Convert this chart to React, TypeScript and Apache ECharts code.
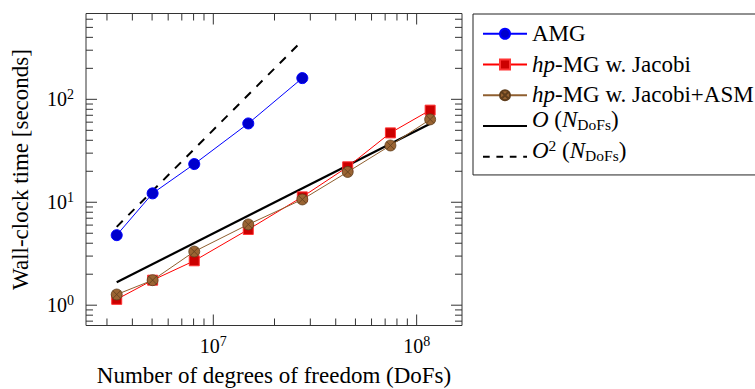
import React, { useEffect, useRef } from 'react';
import * as echarts from 'echarts';

// ---- data ----
const dofsAMG = [3.35e6, 5.03e6, 8.06e6, 1.486e7, 2.74e7];
const timeAMG = [4.79, 12.2, 23.5, 58.3, 160.7];
const dofsHP = [3.35e6, 5.03e6, 8.06e6, 1.486e7, 2.74e7, 4.58e7, 7.43e7, 1.165e8];
const timeJacobi = [1.14, 1.75, 2.7, 5.44, 11.28, 22.1, 47.2, 78.5];
const timeJacobiASM = [1.27, 1.75, 3.32, 6.09, 10.65, 19.7, 35.6, 63.8];
const dofsLinear = [3.35e6, 1.165e8];
const timeLinear = [1.67, 58];
const dofsQuadratic = [3.35e6, 2.74e7];
const timeQuadratic = [5.77, 372];

const xRange = [2.366e6, 1.671e8];
const yRange = [0.635, 682];
const xMajorTicks = [1e7, 1e8];
const xMinorTicks = [3e6, 4e6, 5e6, 6e6, 7e6, 8e6, 9e6, 2e7, 3e7, 4e7, 5e7, 6e7, 7e7, 8e7, 9e7];
const yMajorTicks = [1, 10, 100];
const yMinorTicks = [0.7, 0.8, 0.9, 2, 3, 4, 5, 6, 7, 8, 9, 20, 30, 40, 50, 60, 70, 80, 90, 200, 300, 400, 500, 600];

const legendLabels: Record<string, string> = {
  AMG: '{sp| }{r|AMG}',
  hpJ: '{sp| }{i|hp}{r|-MG w. Jacobi}',
  hpJA: '{sp| }{i|hp}{r|-MG w. Jacobi+ASM}',
  ON: '{sp| }{oi|O}{or| (}{oi|N}{sub|DoFs}{or|)}',
  ON2: '{sp| }{oi|O}{sup|2}{or| (}{oi|N}{sub|DoFs}{or|)}',
};

const FONT = 'Liberation Serif';
const FRAME = '#333333';

const pairs = (xs: number[], ys: number[]) => xs.map((x, i) => [x, ys[i]]);

const otimes = 'path://M10,0A10,10,0,1,1,10,20A10,10,0,1,1,10,0ZM2.93,2.93L17.07,17.07M17.07,2.93L2.93,17.07';

function tickSeries(dir: 'x' | 'y', ticks: number[], len: number) {
  return {
    type: 'custom',
    silent: true,
    z: 5,
    data: ticks.map((v) => (dir === 'x' ? [v, 1] : [1e7, v])),
    renderItem: (params: any, api: any) => {
      const cs = params.coordSys;
      const p = api.coord([api.value(0), api.value(1)]);
      const style = { stroke: FRAME, lineWidth: 1 };
      if (dir === 'x') {
        const x = p[0];
        return {
          type: 'group',
          children: [
            { type: 'line', shape: { x1: x, y1: cs.y + cs.height, x2: x, y2: cs.y + cs.height - len }, style },
            { type: 'line', shape: { x1: x, y1: cs.y, x2: x, y2: cs.y + len }, style },
          ],
        };
      }
      const y = p[1];
      return {
        type: 'group',
        children: [
          { type: 'line', shape: { x1: cs.x, y1: y, x2: cs.x + len, y2: y }, style },
          { type: 'line', shape: { x1: cs.x + cs.width, y1: y, x2: cs.x + cs.width - len, y2: y }, style },
        ],
      };
    },
  };
}

const powLabel = (v: number) => {
  const e = Math.log10(v);
  const r = Math.round(e);
  if (Math.abs(e - r) > 1e-6) return '';
  return `{b|10}{s|${r}}`;
};

const labelRich = {
  b: { fontFamily: FONT, fontSize: 20, lineHeight: 24, color: '#000' },
  s: { fontFamily: FONT, fontSize: 14, lineHeight: 14, verticalAlign: 'top', color: '#000' },
};

const hiddenMarker = { color: 'rgba(0,0,0,0)', borderWidth: 0, borderColor: 'rgba(0,0,0,0)', opacity: 0 };

const tok = (size: number, h: number, italic = false) => ({
  fontFamily: FONT,
  fontSize: size,
  lineHeight: 24,
  height: h,
  verticalAlign: 'top',
  fontStyle: italic ? 'italic' : 'normal',
  color: '#000',
});

export default function App() {
  const ref = useRef<HTMLDivElement>(null);
  useEffect(() => {
    if (!ref.current) return;
    const chart = echarts.init(ref.current, undefined, { renderer: 'svg' });
    chart.setOption({
      animation: false,
      backgroundColor: '#ffffff',
      grid: {
        left: 86,
        top: 13.5,
        width: 376,
        height: 312,
        containLabel: false,
        outerBoundsMode: 'none',
        show: true,
        borderColor: FRAME,
        borderWidth: 1,
        backgroundColor: 'transparent',
      },
      legend: {
        data: [
          { name: 'AMG' },
          { name: 'hpJ' },
          { name: 'hpJA' },
          { name: 'ON', itemStyle: hiddenMarker },
          { name: 'ON2', itemStyle: hiddenMarker, lineStyle: { type: [6.7, 6.7] } },
        ],
        orient: 'vertical',
        left: 473,
        top: 14,
        padding: [0, 4, 6.2, 9],
        itemGap: -1,
        itemWidth: 44,
        itemHeight: 12.5,
        borderColor: '#222',
        borderWidth: 1,
        borderRadius: 0,
        backgroundColor: '#fff',
        formatter: (name: string) => legendLabels[name] || name,
        textStyle: {
          fontFamily: FONT,
          fontSize: 23,
          lineHeight: 24,
          color: '#000',
          rich: {
            sp: { ...tok(30.5, 15.5), width: 0, color: 'rgba(0,0,0,0)' },
            r: tok(23, 23),
            i: tok(23, 23, true),
            oi: tok(23, 11, true),
            or: tok(23, 11),
            sub: tok(15.5, 21),
            sup: tok(15.5, 1),
          },
        },
      },
      xAxis: {
        type: 'log',
        logBase: 10,
        min: xRange[0],
        max: xRange[1],
        axisLine: { show: false },
        axisTick: { show: false },
        splitLine: { show: false },
        minorTick: { show: false },
        axisLabel: { formatter: powLabel, margin: 8.5, rich: labelRich, fontFamily: FONT, fontSize: 20, lineHeight: 24 },
        name: 'Number of degrees of freedom (DoFs)',
        nameLocation: 'middle',
        nameGap: 38,
        nameTextStyle: { fontFamily: FONT, fontSize: 23, color: '#000' },
      },
      yAxis: {
        type: 'log',
        logBase: 10,
        min: yRange[0],
        max: yRange[1],
        axisLine: { show: false },
        axisTick: { show: false },
        splitLine: { show: false },
        minorTick: { show: false },
        axisLabel: { formatter: powLabel, margin: 12, rich: labelRich, fontFamily: FONT, fontSize: 20, lineHeight: 24 },
        name: 'Wall-clock time [seconds]',
        nameLocation: 'middle',
        nameGap: 54.5,
        nameRotate: 90,
        nameTextStyle: { fontFamily: FONT, fontSize: 23, color: '#000' },
      },
      series: [
        {
          name: 'AMG',
          type: 'line',
          data: pairs(dofsAMG, timeAMG),
          symbol: 'circle',
          symbolSize: 11,
          lineStyle: { color: '#0000ff', width: 1 },
          itemStyle: { color: '#0000cc', borderColor: '#0000ff', borderWidth: 1 },
          z: 3,
        },
        {
          name: 'hpJ',
          type: 'line',
          data: pairs(dofsHP, timeJacobi),
          symbol: 'rect',
          symbolSize: 10,
          lineStyle: { color: '#ff0000', width: 1 },
          itemStyle: { color: '#cc0000', borderColor: '#ff3333', borderWidth: 1 },
          z: 3,
        },
        {
          name: 'hpJA',
          type: 'line',
          data: pairs(dofsHP, timeJacobiASM),
          symbol: otimes,
          symbolSize: 11,
          symbolKeepAspect: true,
          lineStyle: { color: '#8f5f30', width: 1 },
          itemStyle: { color: '#9a6433', borderColor: '#5e3d1c', borderWidth: 0.8 },
          z: 4,
        },
        {
          name: 'ON',
          type: 'line',
          data: pairs(dofsLinear, timeLinear),
          symbol: 'none',
          lineStyle: { color: '#000', width: 2.2 },
          itemStyle: { color: '#000' },
          z: 2,
        },
        {
          name: 'ON2',
          type: 'line',
          data: pairs(dofsQuadratic, timeQuadratic),
          symbol: 'none',
          lineStyle: { color: '#000', width: 2, type: [8.5, 8] },
          itemStyle: { color: '#000' },
          z: 2,
        },
        tickSeries('x', xMajorTicks, 11),
        tickSeries('x', xMinorTicks, 7),
        tickSeries('y', yMajorTicks, 11),
        tickSeries('y', yMinorTicks, 7),
      ],
    } as any);
    return () => chart.dispose();
  }, []);
  return <div ref={ref} style={{ position: 'absolute', left: 0, top: 0, width: 755, height: 389 }} />;
}
